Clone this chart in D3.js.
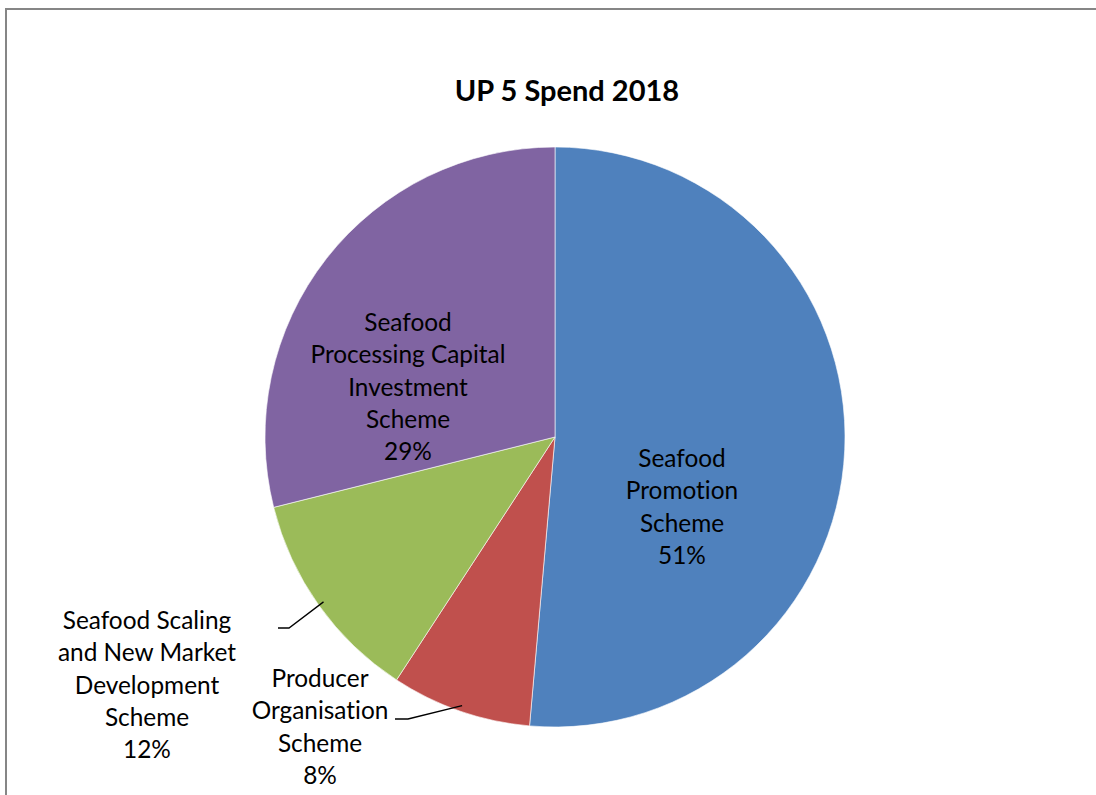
<!DOCTYPE html>
<html>
<head>
<meta charset="utf-8">
<script src="https://cdn.jsdelivr.net/npm/d3@7"></script>
<style>
  body { margin: 0; background: #fff; }
  text { font-family: Lato, "Open Sans", sans-serif; font-variant-ligatures: none; }
</style>
</head>
<body>
<div id="chart"></div>
<script>
// data (clockwise from 12 o'clock)
var categories = ["Seafood Promotion Scheme", "Producer Organisation Scheme",
                  "Seafood Scaling and New Market Development Scheme",
                  "Seafood Processing Capital Investment Scheme"];
var values = [51.4, 7.8, 11.9, 28.9];
var pctLabels = ["51%", "8%", "12%", "29%"];
// label text broken into lines like in the original
var labelLines = [
  ["Seafood", "Promotion", "Scheme"],
  ["Producer", "Organisation", "Scheme"],
  ["Seafood Scaling", "and New Market", "Development", "Scheme"],
  ["Seafood", "Processing Capital", "Investment", "Scheme"]
];
var colors = ["#4F81BD", "#C0504D", "#9BBB59", "#8064A2"];

var width = 1096, height = 795;
var cx = 555, cy = 437, radius = 290;

var svg = d3.select("#chart")
  .append("svg")
  .attr("width", width)
  .attr("height", height);

// chart area border (runs off right/bottom)
svg.append("rect")
  .attr("x", 6).attr("y", 9)
  .attr("width", width + 20).attr("height", height + 20)
  .attr("fill", "#fff")
  .attr("stroke", "#868686")
  .attr("stroke-width", 2);

svg.append("text")
  .attr("x", 567).attr("y", 101)
  .attr("text-anchor", "middle")
  .attr("font-size", "29px")
  .attr("font-weight", "bold")
  .text("UP 5 Spend 2018");

var pie = d3.pie().sort(null).value(function(d) { return d; });
var arc = d3.arc().innerRadius(0).outerRadius(radius);
var arcs = pie(values);

var g = svg.append("g")
  .attr("transform", "translate(" + cx + "," + cy + ")");

g.selectAll("path")
  .data(arcs)
  .enter()
  .append("path")
  .attr("d", arc)
  .attr("fill", function(d, i) { return colors[i]; })
  .attr("stroke", "#fff")
  .attr("stroke-width", 0.6);

// label placement: inside for big slices, outside with leader line for small ones
var labelPos = [
  {x: 682, y: 467},
  {x: 320, y: 687},
  {x: 147, y: 629},
  {x: 408, y: 331}
];
var leaders = [
  null,
  {ax: 395, ay: 719, bx: 408, r: 0.98},
  {ax: 278, ay: 628, bx: 289, r: 0.98},
  null
];

var lineH = 32.3;
arcs.forEach(function(a, i) {
  var lines = labelLines[i].concat([pctLabels[i]]);
  var t = svg.append("text")
    .attr("text-anchor", "middle")
    .attr("font-size", "24.4px")
    .attr("fill", "#000");
  lines.forEach(function(s, k) {
    t.append("tspan")
      .attr("x", labelPos[i].x)
      .attr("y", labelPos[i].y + k * lineH)
      .text(s);
  });

  var L = leaders[i];
  if (L) {
    var edge = d3.arc().innerRadius(radius * L.r).outerRadius(radius * L.r).centroid(a);
    svg.append("path")
      .attr("d", d3.line()([[L.ax, L.ay], [L.bx, L.ay], [cx + edge[0], cy + edge[1]]]))
      .attr("fill", "none")
      .attr("stroke", "#000")
      .attr("stroke-width", 1.3);
  }
});
</script>
</body>
</html>
